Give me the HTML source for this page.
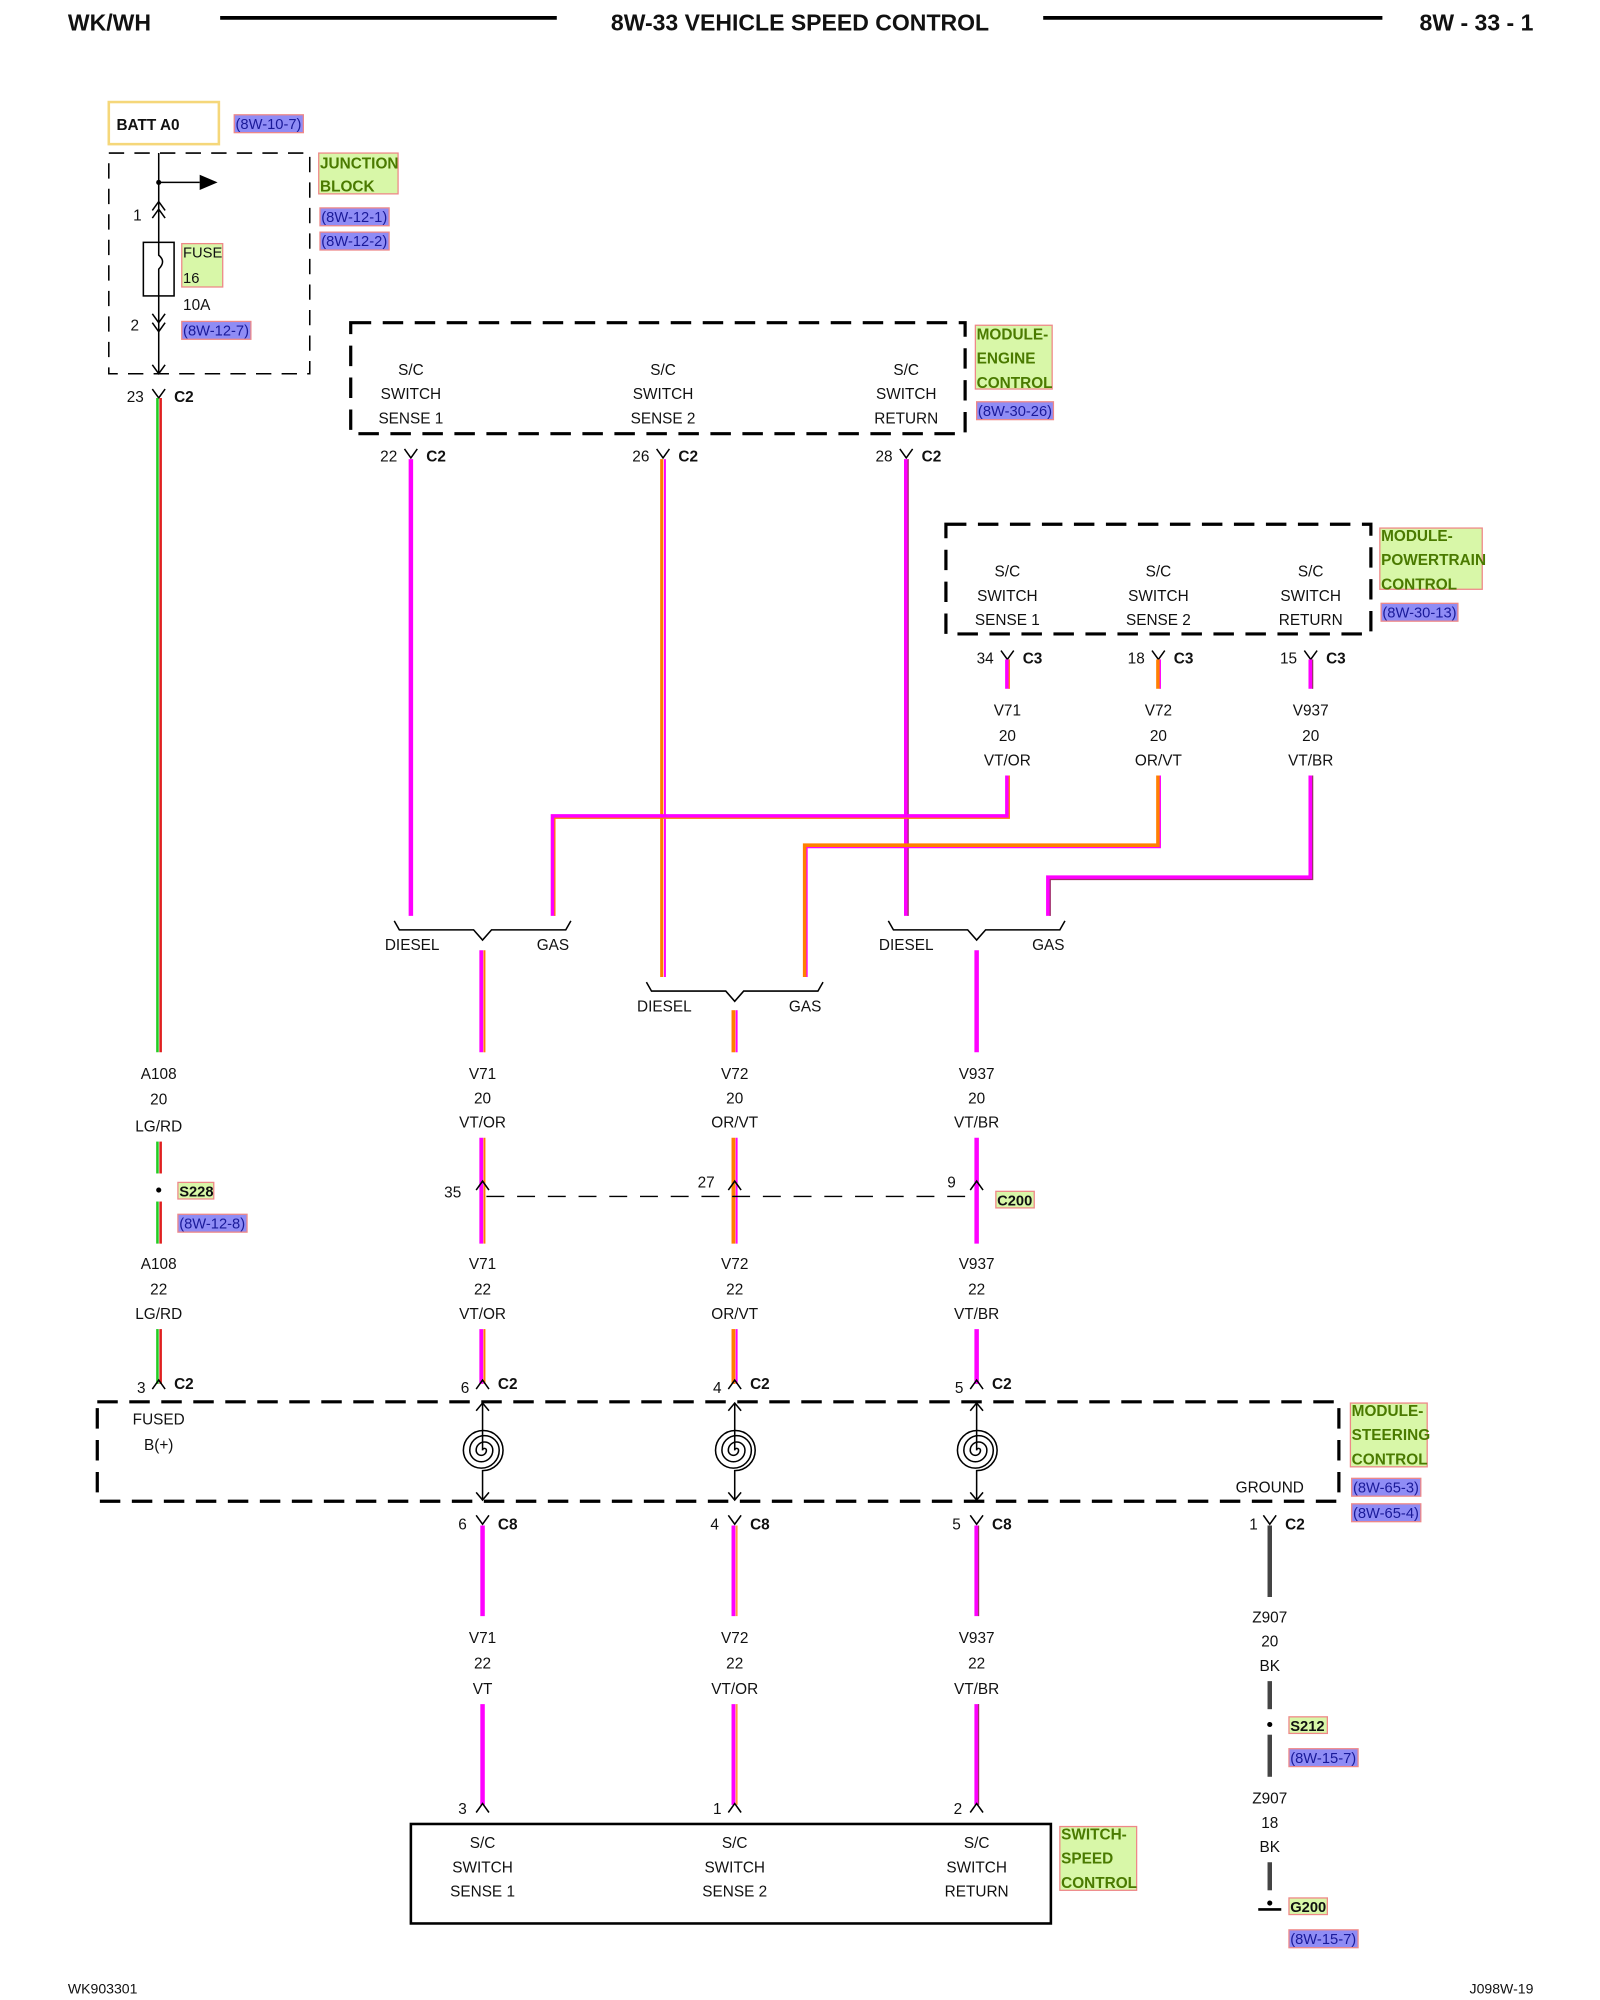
<!DOCTYPE html>
<html><head><meta charset="utf-8"><style>
html,body{margin:0;padding:0;background:#fff;}
svg{display:block;}
text{font-family:"Liberation Sans",sans-serif;fill:#111;}
.t{font-size:12px;}
.b{font-weight:bold;}
.gl{font-size:12px;font-weight:bold;fill:#4a7a00;}
.rf{font-size:11.5px;fill:#1a1a99;}
.m{text-anchor:middle;}
</style></head><body>
<svg width="1600" height="2000" viewBox="0 0 1250 1568" preserveAspectRatio="none" xmlns="http://www.w3.org/2000/svg">
<defs>
<g id="Y"><path d="M-5,0 L0,7 L5,0" fill="none" stroke="#000" stroke-width="1.2"/></g>
<g id="A"><path d="M-5,7 L0,0 L5,7" fill="none" stroke="#000" stroke-width="1.2"/></g>
</defs>
<!-- header -->
<text x="53" y="24" class="b" font-size="18">WK/WH</text>
<line x1="172" y1="14" x2="435" y2="14" stroke="#000" stroke-width="3"/>
<text x="625" y="24" class="b m" font-size="18">8W-33 VEHICLE SPEED CONTROL</text>
<line x1="815" y1="14" x2="1080" y2="14" stroke="#000" stroke-width="3"/>
<text x="1198" y="24" class="b" font-size="18" text-anchor="end">8W - 33 - 1</text>

<!-- BATT -->
<rect x="85" y="80" width="86" height="33" fill="none" stroke="#f5d77a" stroke-width="2"/>
<text x="91" y="102" class="b" font-size="12">BATT A0</text>
<rect x="183" y="90" width="54" height="14" fill="#8f8cf5" stroke="#e88" stroke-width="1"/>
<text x="184" y="101" class="rf">(8W-10-7)</text>

<!-- junction block -->
<rect x="85" y="120" width="157" height="173" fill="none" stroke="#000" stroke-width="1.2" stroke-dasharray="12,8"/>
<line x1="124" y1="120" x2="124" y2="293" stroke="#000" stroke-width="1.2"/>
<circle cx="124" cy="143" r="2" fill="#000"/>
<line x1="124" y1="143" x2="156" y2="143" stroke="#000" stroke-width="1.2"/>
<path d="M156,137 L170,143 L156,149 Z" fill="#000"/>
<use href="#A" x="124" y="158"/><use href="#A" x="124" y="164"/>
<text x="104" y="173" class="t">1</text>
<rect x="112" y="190" width="24" height="42" fill="#fff" stroke="#000" stroke-width="1.2"/>
<path d="M124,190 L124,200 Q130,205 124,211 L124,232" fill="none" stroke="#000" stroke-width="1.2"/>
<rect x="142" y="191" width="32" height="34" fill="#d8f7a8" stroke="#e88"/>
<text x="143" y="202" font-size="11.5" fill="#5a8a10">FUSE</text>
<text x="143" y="222" font-size="11.5" fill="#5a8a10">16</text>
<text x="143" y="243" class="t">10A</text>
<use href="#Y" x="124" y="246"/><use href="#Y" x="124" y="253"/>
<text x="102" y="259" class="t">2</text>
<rect x="142" y="252" width="54" height="14" fill="#8f8cf5" stroke="#e88"/>
<text x="143" y="263" class="rf">(8W-12-7)</text>
<path d="M119,286 L124,293 L129,286" fill="none" stroke="#000" stroke-width="1.2"/>
<rect x="249" y="120" width="62" height="32" fill="#d8f7a8" stroke="#e88"/>
<text x="250" y="132" class="gl">JUNCTION</text>
<text x="250" y="150" class="gl">BLOCK</text>
<rect x="250" y="163" width="54" height="14" fill="#8f8cf5" stroke="#e88"/>
<text x="251" y="174" class="rf">(8W-12-1)</text>
<rect x="250" y="182" width="54" height="14" fill="#8f8cf5" stroke="#e88"/>
<text x="251" y="193" class="rf">(8W-12-2)</text>

<!-- LG/RD wire -->
<use href="#Y" x="124" y="305"/>
<text x="99" y="315" class="t">23</text><text x="136" y="315" class="t b">C2</text>
<g stroke-width="2">
<line x1="123" y1="312" x2="123" y2="825" stroke="#22cc22"/><line x1="125.5" y1="312" x2="125.5" y2="825" stroke="#e02020"/>
<line x1="123" y1="895" x2="123" y2="920" stroke="#22cc22"/><line x1="125.5" y1="895" x2="125.5" y2="920" stroke="#e02020"/>
<line x1="123" y1="942" x2="123" y2="975" stroke="#22cc22"/><line x1="125.5" y1="942" x2="125.5" y2="975" stroke="#e02020"/>
<line x1="123" y1="1042" x2="123" y2="1085" stroke="#22cc22"/><line x1="125.5" y1="1042" x2="125.5" y2="1085" stroke="#e02020"/>
</g>
<text x="124" y="846" class="t m">A108</text><text x="124" y="866" class="t m">20</text><text x="124" y="887" class="t m">LG/RD</text>
<circle cx="124" cy="933" r="2" fill="#000"/>
<rect x="139" y="927" width="28" height="13" fill="#d8f7a8" stroke="#e88"/>
<text x="140" y="938" font-size="11.5" font-weight="bold" fill="#8a6a00">S228</text>
<rect x="139" y="952" width="54" height="14" fill="#8f8cf5" stroke="#e88"/>
<text x="140" y="963" class="rf">(8W-12-8)</text>
<text x="124" y="995" class="t m">A108</text><text x="124" y="1015" class="t m">22</text><text x="124" y="1034" class="t m">LG/RD</text>
<use href="#A" x="124" y="1082"/>
<text x="107" y="1092" class="t">3</text><text x="136" y="1089" class="t b">C2</text>

<!-- ECM -->
<rect x="274" y="253" width="480" height="87" fill="none" stroke="#000" stroke-width="2.5" stroke-dasharray="16,9"/>
<text x="321" y="294" class="t m">S/C</text><text x="321" y="313" class="t m">SWITCH</text><text x="321" y="332" class="t m">SENSE 1</text>
<text x="518" y="294" class="t m">S/C</text><text x="518" y="313" class="t m">SWITCH</text><text x="518" y="332" class="t m">SENSE 2</text>
<text x="708" y="294" class="t m">S/C</text><text x="708" y="313" class="t m">SWITCH</text><text x="708" y="332" class="t m">RETURN</text>
<rect x="762" y="255" width="60" height="50" fill="#d8f7a8" stroke="#e88"/>
<text x="763" y="266" class="gl">MODULE-</text><text x="763" y="285" class="gl">ENGINE</text><text x="763" y="304" class="gl">CONTROL</text>
<rect x="763" y="315" width="60" height="14" fill="#8f8cf5" stroke="#e88"/>
<text x="764" y="326" class="rf">(8W-30-26)</text>
<use href="#Y" x="321" y="352"/><text x="297" y="362" class="t">22</text><text x="333" y="362" class="t b">C2</text>
<use href="#Y" x="518" y="352"/><text x="494" y="362" class="t">26</text><text x="530" y="362" class="t b">C2</text>
<use href="#Y" x="708" y="352"/><text x="684" y="362" class="t">28</text><text x="720" y="362" class="t b">C2</text>

<!-- PCM -->
<rect x="739" y="411" width="332" height="86" fill="none" stroke="#000" stroke-width="2.5" stroke-dasharray="16,9"/>
<text x="787" y="452" class="t m">S/C</text><text x="787" y="471" class="t m">SWITCH</text><text x="787" y="490" class="t m">SENSE 1</text>
<text x="905" y="452" class="t m">S/C</text><text x="905" y="471" class="t m">SWITCH</text><text x="905" y="490" class="t m">SENSE 2</text>
<text x="1024" y="452" class="t m">S/C</text><text x="1024" y="471" class="t m">SWITCH</text><text x="1024" y="490" class="t m">RETURN</text>
<rect x="1078" y="414" width="80" height="48" fill="#d8f7a8" stroke="#e88"/>
<text x="1079" y="424" class="gl">MODULE-</text><text x="1079" y="443" class="gl">POWERTRAIN</text><text x="1079" y="462" class="gl">CONTROL</text>
<rect x="1079" y="473" width="60" height="14" fill="#8f8cf5" stroke="#e88"/>
<text x="1080" y="484" class="rf">(8W-30-13)</text>
<use href="#Y" x="787" y="510"/><text x="763" y="520" class="t">34</text><text x="799" y="520" class="t b">C3</text>
<use href="#Y" x="905" y="510"/><text x="881" y="520" class="t">18</text><text x="917" y="520" class="t b">C3</text>
<use href="#Y" x="1024" y="510"/><text x="1000" y="520" class="t">15</text><text x="1036" y="520" class="t b">C3</text>
<text x="787" y="561" class="t m">V71</text><text x="787" y="581" class="t m">20</text><text x="787" y="600" class="t m">VT/OR</text>
<text x="905" y="561" class="t m">V72</text><text x="905" y="581" class="t m">20</text><text x="905" y="600" class="t m">OR/VT</text>
<text x="1024" y="561" class="t m">V937</text><text x="1024" y="581" class="t m">20</text><text x="1024" y="600" class="t m">VT/BR</text>

<!-- wires upper -->
<g fill="none" stroke-linejoin="miter">
<line x1="321" y1="360" x2="321" y2="718" stroke="#ff00ff" stroke-width="3.5"/>
<line x1="517" y1="360" x2="517" y2="766" stroke="#ff7f00" stroke-width="2.5"/><line x1="519.5" y1="360" x2="519.5" y2="766" stroke="#ff00ff" stroke-width="1.5"/>
<line x1="708" y1="360" x2="708" y2="718" stroke="#ff00ff" stroke-width="3.5"/><line x1="709.5" y1="360" x2="709.5" y2="718" stroke="#a0306a" stroke-width="1"/>
<line x1="787" y1="517" x2="787" y2="540" stroke="#ff00ff" stroke-width="3.5"/><line x1="788.5" y1="517" x2="788.5" y2="540" stroke="#ff7f00" stroke-width="1"/>
<line x1="905" y1="517" x2="905" y2="540" stroke="#ff7f00" stroke-width="3.5"/><line x1="906.5" y1="517" x2="906.5" y2="540" stroke="#ff00ff" stroke-width="1"/>
<line x1="1024" y1="517" x2="1024" y2="540" stroke="#ff00ff" stroke-width="3.5"/><line x1="1025.5" y1="517" x2="1025.5" y2="540" stroke="#a0306a" stroke-width="1"/>
<path d="M787,608 V640 H432 V718" stroke="#ff00ff" stroke-width="3.5"/>
<path d="M788.5,608 V641.5 H433.5 V718" stroke="#ff7f00" stroke-width="1"/>
<path d="M905,608 V663 H629 V766" stroke="#ff7f00" stroke-width="3.5"/>
<path d="M906.5,608 V664.5 H630.5 V766" stroke="#ff00ff" stroke-width="1"/>
<path d="M1024,608 V688 H819 V718" stroke="#ff00ff" stroke-width="3.5"/>
<path d="M1025.5,608 V689.5 H820.5 V718" stroke="#a0306a" stroke-width="1"/>
</g>

<!-- splice brackets -->
<g fill="none" stroke="#000" stroke-width="1.2">
<path d="M308,722 L312,729 H370 L377,737 L384,729 H442 L446,722"/>
<path d="M505,770 L509,777 H567 L574,785 L581,777 H639 L643,770"/>
<path d="M694,722 L698,729 H756 L763,737 L770,729 H828 L832,722"/>
</g>
<text x="322" y="745" class="t m">DIESEL</text><text x="432" y="745" class="t m">GAS</text>
<text x="519" y="793" class="t m">DIESEL</text><text x="629" y="793" class="t m">GAS</text>
<text x="708" y="745" class="t m">DIESEL</text><text x="819" y="745" class="t m">GAS</text>

<!-- middle wires -->
<g stroke-width="3">
<line x1="376" y1="745" x2="376" y2="825" stroke="#ff00ff"/><line x1="378.5" y1="745" x2="378.5" y2="825" stroke="#ff7f00" stroke-width="1.5"/>
<line x1="573" y1="792" x2="573" y2="825" stroke="#ff7f00"/><line x1="575.5" y1="792" x2="575.5" y2="825" stroke="#ff00ff" stroke-width="1.5"/>
<line x1="763" y1="745" x2="763" y2="825" stroke="#ff00ff" stroke-width="3.5"/>
<line x1="376" y1="892" x2="376" y2="975" stroke="#ff00ff"/><line x1="378.5" y1="892" x2="378.5" y2="975" stroke="#ff7f00" stroke-width="1.5"/>
<line x1="573" y1="892" x2="573" y2="975" stroke="#ff7f00"/><line x1="575.5" y1="892" x2="575.5" y2="975" stroke="#ff00ff" stroke-width="1.5"/>
<line x1="763" y1="892" x2="763" y2="975" stroke="#ff00ff" stroke-width="3.5"/>
<line x1="376" y1="1042" x2="376" y2="1085" stroke="#ff00ff"/><line x1="378.5" y1="1042" x2="378.5" y2="1085" stroke="#ff7f00" stroke-width="1.5"/>
<line x1="573" y1="1042" x2="573" y2="1085" stroke="#ff7f00"/><line x1="575.5" y1="1042" x2="575.5" y2="1085" stroke="#ff00ff" stroke-width="1.5"/>
<line x1="763" y1="1042" x2="763" y2="1085" stroke="#ff00ff" stroke-width="3.5"/>
</g>
<text x="377" y="846" class="t m">V71</text><text x="377" y="865" class="t m">20</text><text x="377" y="884" class="t m">VT/OR</text>
<text x="574" y="846" class="t m">V72</text><text x="574" y="865" class="t m">20</text><text x="574" y="884" class="t m">OR/VT</text>
<text x="763" y="846" class="t m">V937</text><text x="763" y="865" class="t m">20</text><text x="763" y="884" class="t m">VT/BR</text>
<!-- C200 -->
<line x1="380" y1="938" x2="760" y2="938" stroke="#000" stroke-width="1" stroke-dasharray="14,10"/>
<use href="#A" x="377" y="926"/><use href="#A" x="574" y="926"/><use href="#A" x="763" y="926"/>
<text x="347" y="939" class="t">35</text><text x="545" y="931" class="t">27</text><text x="740" y="931" class="t">9</text>
<rect x="778" y="934" width="30" height="13" fill="#d8f7a8" stroke="#e88"/>
<text x="779" y="945" font-size="11.5" font-weight="bold" fill="#8a6a00">C200</text>
<text x="377" y="995" class="t m">V71</text><text x="377" y="1015" class="t m">22</text><text x="377" y="1034" class="t m">VT/OR</text>
<text x="574" y="995" class="t m">V72</text><text x="574" y="1015" class="t m">22</text><text x="574" y="1034" class="t m">OR/VT</text>
<text x="763" y="995" class="t m">V937</text><text x="763" y="1015" class="t m">22</text><text x="763" y="1034" class="t m">VT/BR</text>
<use href="#A" x="377" y="1082"/><text x="360" y="1092" class="t">6</text><text x="389" y="1089" class="t b">C2</text>
<use href="#A" x="574" y="1082"/><text x="557" y="1092" class="t">4</text><text x="586" y="1089" class="t b">C2</text>
<use href="#A" x="763" y="1082"/><text x="746" y="1092" class="t">5</text><text x="775" y="1089" class="t b">C2</text>

<!-- SCCM -->
<rect x="76" y="1099" width="970" height="78" fill="none" stroke="#000" stroke-width="2.5" stroke-dasharray="16,9"/>
<text x="124" y="1117" class="t m">FUSED</text><text x="124" y="1137" class="t m">B(+)</text>
<g fill="none" stroke="#000" stroke-width="1.2" id="cs">
<line x1="377" y1="1100" x2="377" y2="1137"/>
<path d="M372,1106 L377,1100 L382,1106"/>
<path d="M377,1137 A1.5,1.5 0 0 1 380,1137 A4,4 0 0 1 372,1137 A6.5,6.5 0 0 1 385,1137 A9,9 0 0 1 367,1137 A11.5,11.5 0 0 1 390,1137 A14,14 0 0 1 362,1137 A15.5,15.5 0 0 1 393,1137 A16,16 0 0 1 377,1153 L377,1176"/>
<path d="M372,1170 L377,1176 L382,1170"/>
</g>
<use href="#cs" x="197"/><use href="#cs" x="386"/>
<text x="992" y="1170" class="t m">GROUND</text>
<rect x="1055" y="1100" width="60" height="50" fill="#d8f7a8" stroke="#e88"/>
<text x="1056" y="1110" class="gl">MODULE-</text><text x="1056" y="1129" class="gl">STEERING</text><text x="1056" y="1148" class="gl">CONTROL</text>
<rect x="1056" y="1159" width="54" height="14" fill="#8f8cf5" stroke="#e88"/>
<text x="1057" y="1170" class="rf">(8W-65-3)</text>
<rect x="1056" y="1179" width="54" height="14" fill="#8f8cf5" stroke="#e88"/>
<text x="1057" y="1190" class="rf">(8W-65-4)</text>
<use href="#Y" x="377" y="1188"/><text x="358" y="1199" class="t">6</text><text x="389" y="1199" class="t b">C8</text>
<use href="#Y" x="574" y="1188"/><text x="555" y="1199" class="t">4</text><text x="586" y="1199" class="t b">C8</text>
<use href="#Y" x="763" y="1188"/><text x="744" y="1199" class="t">5</text><text x="775" y="1199" class="t b">C8</text>
<use href="#Y" x="992" y="1188"/><text x="976" y="1199" class="t">1</text><text x="1004" y="1199" class="t b">C2</text>

<!-- lower wires -->
<g>
<line x1="377" y1="1196" x2="377" y2="1267" stroke="#ff00ff" stroke-width="3.5"/>
<line x1="573" y1="1196" x2="573" y2="1267" stroke="#ff00ff" stroke-width="3"/><line x1="575.5" y1="1196" x2="575.5" y2="1267" stroke="#ff9a40" stroke-width="1.5"/>
<line x1="763" y1="1196" x2="763" y2="1267" stroke="#ff00ff" stroke-width="3.5"/><line x1="764.5" y1="1196" x2="764.5" y2="1267" stroke="#a0306a" stroke-width="1"/>
<line x1="377" y1="1336" x2="377" y2="1415" stroke="#ff00ff" stroke-width="3.5"/>
<line x1="573" y1="1336" x2="573" y2="1415" stroke="#ff00ff" stroke-width="3"/><line x1="575.5" y1="1336" x2="575.5" y2="1415" stroke="#ff9a40" stroke-width="1.5"/>
<line x1="763" y1="1336" x2="763" y2="1415" stroke="#ff00ff" stroke-width="3.5"/><line x1="764.5" y1="1336" x2="764.5" y2="1415" stroke="#a0306a" stroke-width="1"/>
<line x1="992" y1="1196" x2="992" y2="1252" stroke="#444" stroke-width="3.5"/>
<line x1="992" y1="1318" x2="992" y2="1340" stroke="#444" stroke-width="3.5"/>
<line x1="992" y1="1360" x2="992" y2="1393" stroke="#444" stroke-width="3.5"/>
<line x1="992" y1="1460" x2="992" y2="1482" stroke="#444" stroke-width="3.5"/>
</g>
<text x="377" y="1288" class="t m">V71</text><text x="377" y="1308" class="t m">22</text><text x="377" y="1328" class="t m">VT</text>
<text x="574" y="1288" class="t m">V72</text><text x="574" y="1308" class="t m">22</text><text x="574" y="1328" class="t m">VT/OR</text>
<text x="763" y="1288" class="t m">V937</text><text x="763" y="1308" class="t m">22</text><text x="763" y="1328" class="t m">VT/BR</text>
<text x="992" y="1272" class="t m">Z907</text><text x="992" y="1291" class="t m">20</text><text x="992" y="1310" class="t m">BK</text>
<circle cx="992" cy="1352" r="2" fill="#000"/>
<rect x="1007" y="1346" width="30" height="13" fill="#d8f7a8" stroke="#e88"/>
<text x="1008" y="1357" font-size="11.5" font-weight="bold" fill="#8a6a00">S212</text>
<rect x="1007" y="1371" width="54" height="14" fill="#8f8cf5" stroke="#e88"/>
<text x="1008" y="1382" class="rf">(8W-15-7)</text>
<text x="992" y="1414" class="t m">Z907</text><text x="992" y="1433" class="t m">18</text><text x="992" y="1452" class="t m">BK</text>
<circle cx="992" cy="1492" r="2" fill="#000"/>
<line x1="983" y1="1497" x2="1001" y2="1497" stroke="#000" stroke-width="2"/>
<rect x="1007" y="1488" width="30" height="13" fill="#d8f7a8" stroke="#e88"/>
<text x="1008" y="1499" font-size="11.5" font-weight="bold" fill="#8a6a00">G200</text>
<rect x="1007" y="1513" width="54" height="14" fill="#8f8cf5" stroke="#e88"/>
<text x="1008" y="1524" class="rf">(8W-15-7)</text>

<use href="#A" x="377" y="1414"/><text x="358" y="1422" class="t">3</text>
<use href="#A" x="574" y="1414"/><text x="557" y="1422" class="t">1</text>
<use href="#A" x="763" y="1414"/><text x="745" y="1422" class="t">2</text>

<!-- switch -->
<rect x="321" y="1430" width="500" height="78" fill="none" stroke="#000" stroke-width="2"/>
<text x="377" y="1449" class="t m">S/C</text><text x="377" y="1468" class="t m">SWITCH</text><text x="377" y="1487" class="t m">SENSE 1</text>
<text x="574" y="1449" class="t m">S/C</text><text x="574" y="1468" class="t m">SWITCH</text><text x="574" y="1487" class="t m">SENSE 2</text>
<text x="763" y="1449" class="t m">S/C</text><text x="763" y="1468" class="t m">SWITCH</text><text x="763" y="1487" class="t m">RETURN</text>
<rect x="828" y="1432" width="60" height="50" fill="#d8f7a8" stroke="#e88"/>
<text x="829" y="1442" class="gl">SWITCH-</text><text x="829" y="1461" class="gl">SPEED</text><text x="829" y="1480" class="gl">CONTROL</text>

<text x="53" y="1563" font-size="11">WK903301</text>
<text x="1198" y="1563" font-size="11" text-anchor="end">J098W-19</text>
</svg>
</body></html>
